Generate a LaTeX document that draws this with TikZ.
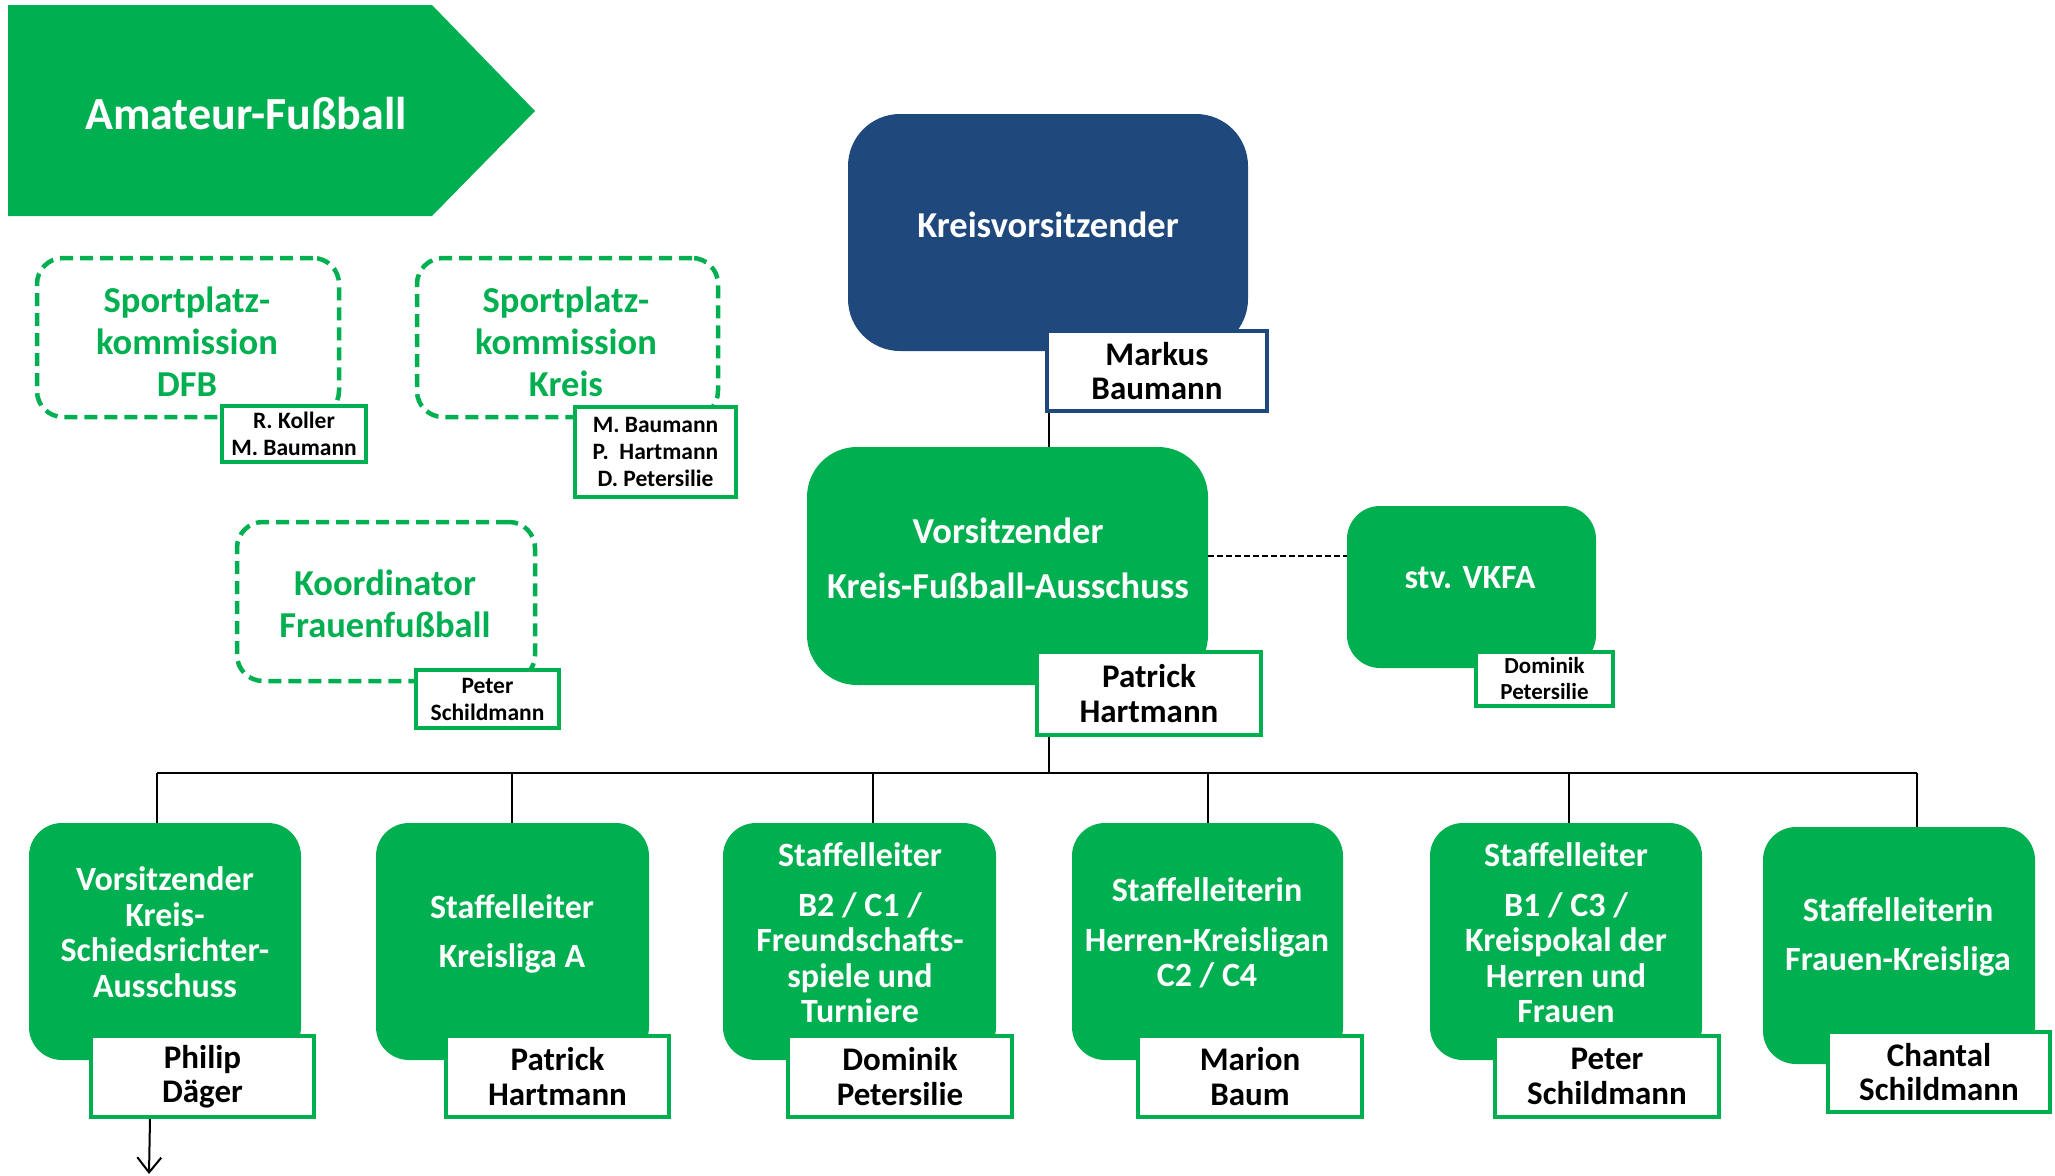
\documentclass[tikz,border=0pt]{standalone}
\usepackage{fontspec}
\setmainfont{Carlito}
\usetikzlibrary{arrows.meta}
\definecolor{kgreen}{HTML}{00AF50}
\definecolor{knavy}{HTML}{1F497D}
\tikzset{
  box/.style={fill=kgreen, rounded corners=33pt, inner sep=0pt, draw=none},
  boxtxt/.style={text=white, font=\bfseries\fontsize{34}{35.5}\selectfont, align=center, inner sep=0pt},
  bigtxt/.style={boxtxt, font=\bfseries\fontsize{36.5}{35.5}\selectfont},
  namebox/.style={draw=kgreen, line width=4pt, fill=white, inner sep=0pt, align=center, font=\bfseries\fontsize{33}{34.5}\selectfont},
  smallname/.style={namebox, font=\bfseries\fontsize{23.5}{27}\selectfont},
  dashbox/.style={draw=kgreen, line width=4.5pt, dash pattern=on 13pt off 7pt, rounded corners=26pt, inner sep=0pt},
  dashtxt/.style={text=kgreen, font=\bfseries\fontsize{36.5}{42}\selectfont, align=center, inner sep=0pt},
  conn/.style={draw=black, line width=2pt},
}
\begin{document}
\begin{tikzpicture}[x=1pt,y=-1pt]
\useasboundingbox (0,0) rectangle (2055,1175);

% title arrow
\fill[kgreen] (8,5) -- (432,5) -- (535,111) -- (432,216) -- (8,216) -- cycle;
\node[text=white, font=\bfseries\fontsize{46}{50}\selectfont, inner sep=0pt] (title) at (246,114) {Amateur-Fußball};

% dashed boxes
\node[dashbox, minimum width=302, minimum height=159] (dfb) at (188,337.5) {};
\node[dashtxt] (dfbt) at (187,342) {Sportplatz-\\kommission\\DFB};
\node[smallname, minimum width=144, minimum height=56] (dfbn) at (294,434) {R. Koller\\M. Baumann};

\node[dashbox, minimum width=301, minimum height=159] (kreis) at (567.5,337.5) {};
\node[dashtxt] (kreist) at (566,342) {Sportplatz-\\kommission\\Kreis};
\node[smallname, minimum width=161, minimum height=90] (kreisn) at (655.5,452) {M. Baumann\\P.\ \ Hartmann\\D. Petersilie};

\node[dashbox, minimum width=298, minimum height=159] (koord) at (386,601.5) {};
\node[dashtxt] (koordt) at (385,603.5) {Koordinator\\Frauenfußball};
\node[smallname, minimum width=143, minimum height=58] (koordn) at (487.5,699) {Peter\\Schildmann};

% Kreisvorsitzender
\node[box, fill=knavy, rounded corners=52pt, minimum width=400, minimum height=237] (kv) at (1048,232.5) {};
\node[bigtxt] (kvt) at (1048,225) {Kreisvorsitzender};
\node[namebox, draw=knavy, minimum width=220, minimum height=80] (kvn) at (1157,371) {Markus\\Baumann};

% Vorsitzender KFA
\node[box, rounded corners=50pt, minimum width=401, minimum height=238] (kfa) at (1007.5,566) {};
\node[bigtxt] (kfat) at (1008,558.5) {Vorsitzender\\[20pt]Kreis-Fußball-Ausschuss};
\node[namebox, minimum width=224, minimum height=83] (kfan) at (1149,693.5) {Patrick\\Hartmann};

% stv VKFA
\node[box, minimum width=249, minimum height=162] (stv) at (1471.5,587) {};
\node[boxtxt] (stvt) at (1470,578) {stv. VKFA};
\node[smallname, minimum width=137, minimum height=54, font=\bfseries\fontsize{23}{26}\selectfont] (stvn) at (1544.5,679) {Dominik\\Petersilie};

% bottom row
\node[box, minimum width=272, minimum height=237] (b1) at (165,941.5) {};
\node[boxtxt] (b1t) at (165,932) {Vorsitzender\\Kreis-\\Schiedsrichter-\\Ausschuss};
\node[namebox, minimum width=223, minimum height=81] (b1n) at (202.5,1076.5) {Philip\\Däger};

\node[box, minimum width=273, minimum height=237] (b2) at (512.5,941.5) {};
\node[boxtxt] (b2t) at (512,934) {Staffelleiter\\[14pt]Kreisliga A};
\node[namebox, minimum width=223, minimum height=81] (b2n) at (557.5,1076.5) {Patrick\\Hartmann};

\node[box, minimum width=273, minimum height=237] (b3) at (859.5,941.5) {};
\node[boxtxt] (b3t) at (860,933) {Staffelleiter\\[14pt]B2 / C1 /\\Freundschafts-\\spiele und\\Turniere};
\node[namebox, minimum width=224, minimum height=81] (b3n) at (900,1076.5) {Dominik\\Petersilie};

\node[box, minimum width=271, minimum height=237] (b4) at (1207.5,941.5) {};
\node[boxtxt] (b4t) at (1207,933) {Staffelleiterin\\[14pt]Herren-Kreisligan\\C2 / C4};
\node[namebox, minimum width=224, minimum height=81] (b4n) at (1250,1076.5) {Marion\\Baum};

\node[box, minimum width=272, minimum height=237] (b5) at (1566,941.5) {};
\node[boxtxt] (b5t) at (1566,933) {Staffelleiter\\[14pt]B1 / C3 /\\Kreispokal der\\Herren und\\Frauen};
\node[namebox, minimum width=224, minimum height=81] (b5n) at (1607,1076.5) {Peter\\Schildmann};

\node[box, minimum width=272, minimum height=237] (b6) at (1899,945.5) {};
\node[boxtxt] (b6t) at (1898,937) {Staffelleiterin\\[14pt]Frauen-Kreisliga};
\node[namebox, minimum width=222, minimum height=80] (b6n) at (1939,1072) {Chantal\\Schildmann};

% connectors
\coordinate (spine) at (1049,0);
\draw[conn] (kvn.south -| spine) -- (kfa.north -| spine);
\coordinate (bus) at (1049,773);
\draw[conn] (kfan.south -| spine) -- (bus);
\coordinate (d1) at (157,773);
\coordinate (d2) at (512,773);
\coordinate (d3) at (873,773);
\coordinate (d4) at (1208,773);
\coordinate (d5) at (1569,773);
\coordinate (d6) at (1917,773);
\draw[conn] (d1) -- (d6);
\draw[conn] (d1) -- (d1 |- b1.north);
\draw[conn] (d2) -- (d2 |- b2.north);
\draw[conn] (d3) -- (d3 |- b3.north);
\draw[conn] (d4) -- (d4 |- b4.north);
\draw[conn] (d5) -- (d5 |- b5.north);
\draw[conn] (d6) -- (d6 |- b6.north);

\coordinate (dl) at (1208,556);
\draw[conn, line width=2.5pt, dash pattern=on 6pt off 3pt] (dl) -- (dl -| stv.west);

\coordinate (arrtop) at (150,0);
\coordinate (arrend) at (149,1174);
\draw[conn, -{Straight Barb[length=15pt,width=24pt,line width=2pt]}] (b1n.south -| arrtop) -- (arrend);
\end{tikzpicture}
\end{document}
